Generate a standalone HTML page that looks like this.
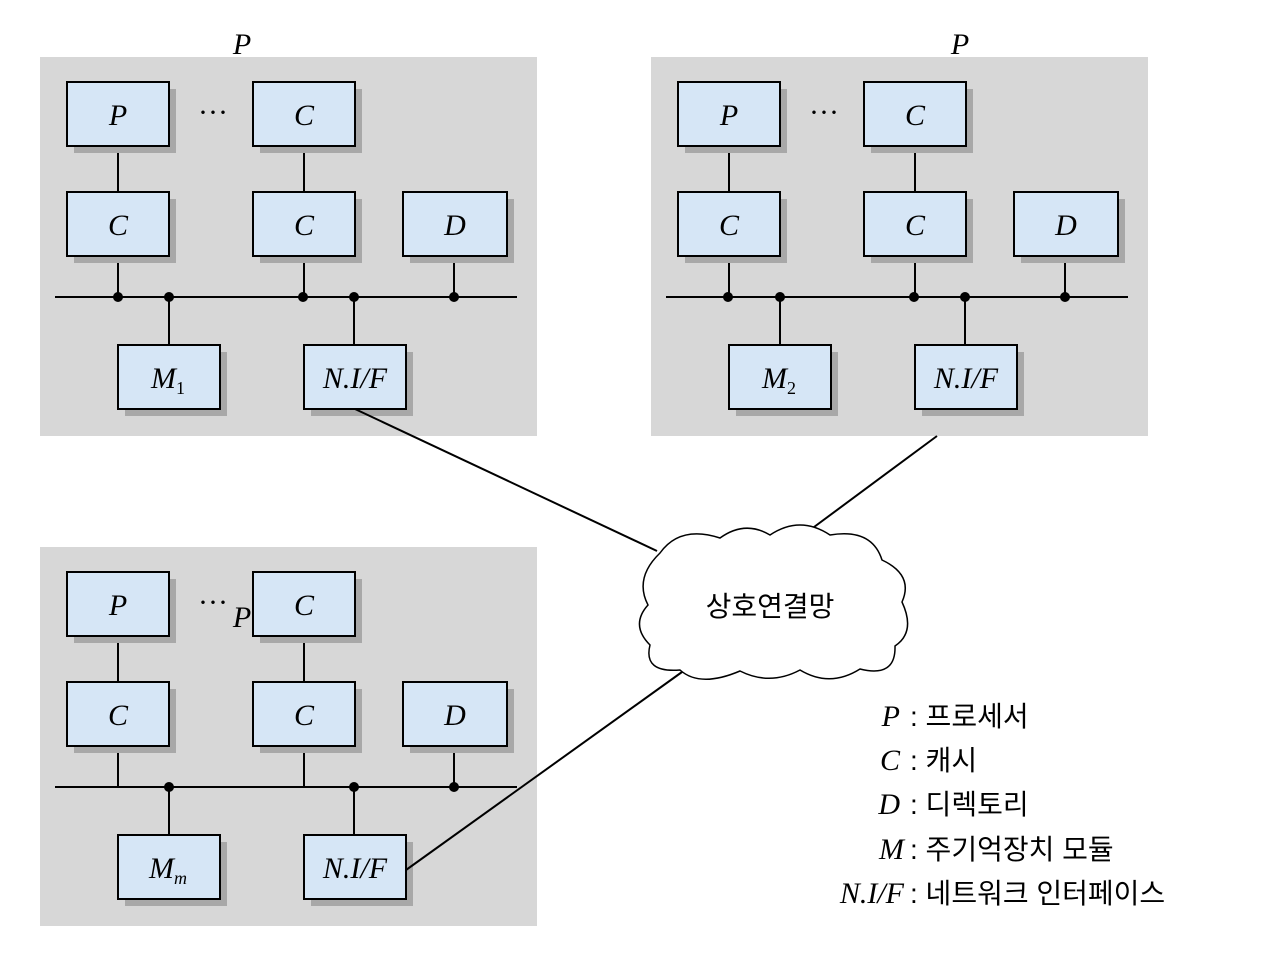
<!DOCTYPE html>
<html><head><meta charset="utf-8"><style>
html,body{margin:0;padding:0;background:#fff;}
svg{display:block;}
.bx{fill:#d6e6f6;stroke:#000;stroke-width:2;}
.sh{fill:#a8a8a8;}
.t{font-family:"Liberation Serif",serif;font-style:italic;font-size:30px;text-anchor:middle;}
.k{font-family:"Liberation Sans","Noto Sans CJK KR",sans-serif;}
</style></head><body>
<svg width="1280" height="977" viewBox="0 0 1280 977" xmlns="http://www.w3.org/2000/svg">
<defs>
<g id="panel">
<rect x="40" y="57" width="497" height="379" fill="#d7d7d7"/>
<g stroke="#000" stroke-width="2">
<line x1="118" y1="146" x2="118" y2="192"/><line x1="304" y1="146" x2="304" y2="192"/>
<line x1="118" y1="256" x2="118" y2="297"/><line x1="304" y1="256" x2="304" y2="297"/>
<line x1="454" y1="256" x2="454" y2="297"/>
<line x1="169" y1="297" x2="169" y2="345"/><line x1="354" y1="297" x2="354" y2="345"/>
<line x1="55" y1="297" x2="517" y2="297"/>
</g>
<g class="sh">
<rect x="74" y="89" width="102" height="64"/><rect x="260" y="89" width="102" height="64"/>
<rect x="74" y="199" width="102" height="64"/><rect x="260" y="199" width="102" height="64"/><rect x="410" y="199" width="104" height="64"/>
<rect x="125" y="352" width="102" height="64"/><rect x="311" y="352" width="102" height="64"/>
</g>
<rect class="bx" x="67" y="82" width="102" height="64"/><rect class="bx" x="253" y="82" width="102" height="64"/>
<rect class="bx" x="67" y="192" width="102" height="64"/><rect class="bx" x="253" y="192" width="102" height="64"/><rect class="bx" x="403" y="192" width="104" height="64"/>
<rect class="bx" x="118" y="345" width="102" height="64"/><rect class="bx" x="304" y="345" width="102" height="64"/>
<text class="t" x="118" y="125">P</text><text class="t" x="304" y="125">C</text>
<text class="t" x="213" y="122" style="font-style:normal">···</text>
<text class="t" x="118" y="235">C</text><text class="t" x="304" y="235">C</text><text class="t" x="455" y="235">D</text>
<text class="t" x="355" y="388">N.I/F</text>
<g fill="#000"><circle cx="169" cy="297" r="5"/><circle cx="354" cy="297" r="5"/><circle cx="454" cy="297" r="5"/></g>
</g>
</defs>
<use href="#panel"/>
<g fill="#000"><circle cx="118" cy="297" r="5"/><circle cx="303" cy="297" r="5"/></g>
<text class="t" x="168" y="388">M<tspan font-size="18" dy="6" font-style="normal">1</tspan></text>
<use href="#panel" transform="translate(611,0)"/>
<g fill="#000"><circle cx="728" cy="297" r="5"/><circle cx="914" cy="297" r="5"/></g>
<text class="t" x="779" y="388">M<tspan font-size="18" dy="6" font-style="normal">2</tspan></text>
<use href="#panel" transform="translate(0,490)"/>
<text class="t" x="168" y="878">M<tspan font-size="18" dy="6">m</tspan></text>
<text class="t" x="242" y="54" font-size="40">P</text>
<text class="t" x="960" y="54" font-size="40">P</text>
<text class="t" x="242" y="627" font-size="40">P</text>
<g stroke="#000" stroke-width="2">
<line x1="355" y1="409" x2="657" y2="551"/>
<line x1="937" y1="436" x2="810" y2="530"/>
<line x1="406" y1="870" x2="682" y2="672"/>
</g>
<path d="M660,553 Q680,525 720,538 Q745,520 770,535 Q800,515 830,535 Q872,528 882,560 Q914,575 902,602 Q916,632 895,646 Q896,678 860,669 Q830,688 800,670 Q770,686 740,671 Q700,688 680,670 Q643,673 650,645 Q630,625 648,605 Q634,578 660,553 Z" fill="#fff" stroke="#000" stroke-width="1.5"/>
<text class="k" x="770" y="616" font-size="28" text-anchor="middle">상호연결망</text>
<g font-size="30">
<text class="t" x="900" y="726" text-anchor="end" style="text-anchor:end">P</text>
<text class="t" x="900" y="770" style="text-anchor:end">C</text>
<text class="t" x="900" y="814" style="text-anchor:end">D</text>
<text class="t" x="904" y="859" style="text-anchor:end">M</text>
<text class="t" x="904" y="903" style="text-anchor:end">N.I/F</text>
</g>
<g class="k" font-size="28">
<text x="910" y="726">: 프로세서</text>
<text x="910" y="770">: 캐시</text>
<text x="910" y="814">: 디렉토리</text>
<text x="910" y="859">: 주기억장치 모듈</text>
<text x="910" y="903">: 네트워크 인터페이스</text>
</g>
</svg>
</body></html>
